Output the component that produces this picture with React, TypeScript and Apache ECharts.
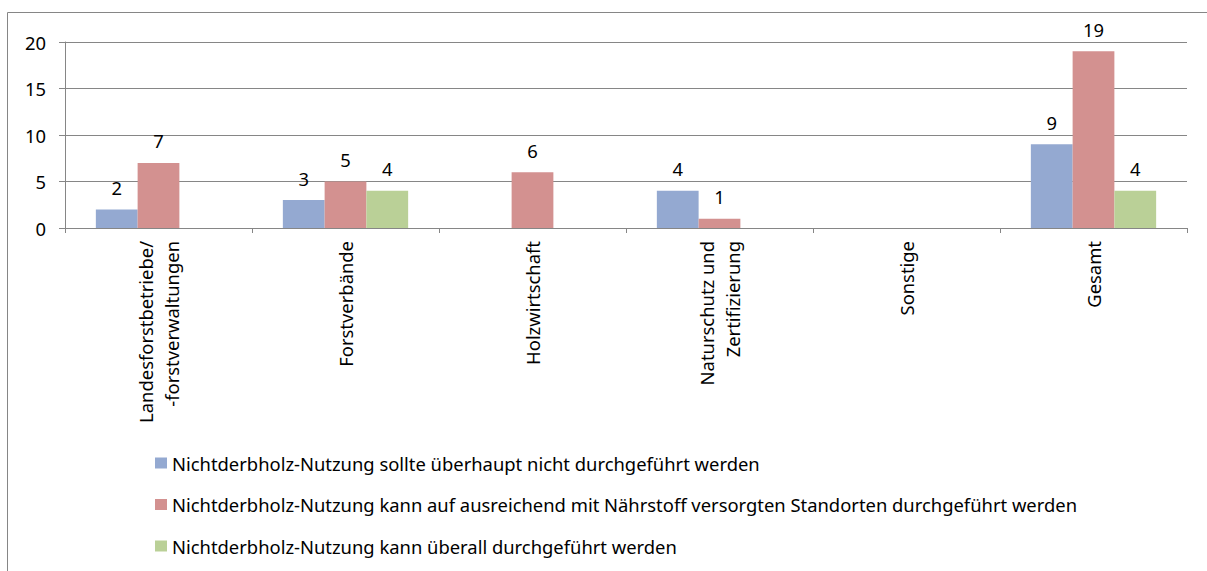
import React, { useEffect, useRef } from "react";
import * as echarts from "echarts";

const categories = [
  "Landesforstbetriebe/\n-forstverwaltungen",
  "Forstverbände",
  "Holzwirtschaft",
  "Naturschutz und\nZertifizierung",
  "Sonstige",
  "Gesamt",
];
const seriesNames = [
  "Nichtderbholz-Nutzung sollte überhaupt nicht durchgeführt werden",
  "Nichtderbholz-Nutzung kann auf ausreichend mit Nährstoff versorgten Standorten durchgeführt werden",
  "Nichtderbholz-Nutzung kann überall durchgeführt werden",
];
const valuesNicht = [2, 3, null, 4, null, 9];
const valuesNaehrstoff = [7, 5, 6, 1, null, 19];
const valuesUeberall = [null, 4, null, null, null, 4];
const colors = ["#94a9d1", "#d39190", "#bad097"];

const FONT = "'Noto Sans', sans-serif";
const FS = 18.4;

export default function App() {
  const ref = useRef<HTMLDivElement>(null);
  useEffect(() => {
    if (!ref.current) return;
    const chart = echarts.init(ref.current, null, { renderer: "svg" });
    const data = [valuesNicht, valuesNaehrstoff, valuesUeberall];
    chart.setOption({
      animation: false,
      backgroundColor: "#ffffff",
      textStyle: { fontFamily: FONT },
      graphic: [
        {
          type: "rect",
          shape: { x: 7.5, y: 12.5, width: 1210, height: 570 },
          style: { fill: "none", stroke: "#868686", lineWidth: 1 },
          silent: true,
        },
      ],
      grid: { left: 65, right: 20, top: 42, bottom: 343, containLabel: false },
      legend: {
        orient: "vertical",
        left: 155,
        top: 453,
        padding: 0,
        itemGap: 21.5,
        itemWidth: 12,
        itemHeight: 11,
        icon: "rect",
        textStyle: { fontFamily: FONT, fontSize: FS, lineHeight: 20, color: "#000" },
        data: seriesNames,
      },
      xAxis: {
        type: "category",
        data: categories,
        axisLine: { lineStyle: { color: "#868686", width: 1 } },
        axisTick: { show: true, length: 5, alignWithLabel: false, lineStyle: { color: "#868686" } },
        axisLabel: {
          rotate: 90,
          interval: 0,
          margin: 13,
          fontFamily: FONT,
          fontSize: FS,
          color: "#000",
          lineHeight: 26,
        },
      },
      yAxis: {
        type: "value",
        min: 0,
        max: 20,
        interval: 5,
        axisLine: { show: true, lineStyle: { color: "#868686" } },
        axisTick: { show: true, length: 6, lineStyle: { color: "#868686" } },
        splitLine: { lineStyle: { color: "#868686", width: 1 } },
        axisLabel: { fontFamily: FONT, fontSize: FS, color: "#000", margin: 19 },
      },
      series: seriesNames.map((name, i) => ({
        name,
        type: "bar",
        data: data[i],
        barGap: "0%",
        barCategoryGap: "33%",
        itemStyle: { color: colors[i] },
        label: {
          show: true,
          position: "top",
          distance: 13,
          fontFamily: FONT,
          fontSize: FS,
          color: "#000",
        },
      })),
    });
    return () => chart.dispose();
  }, []);
  return (
    <div
      ref={ref}
      style={{ position: "absolute", left: 0, top: 0, width: 1207, height: 571 }}
    />
  );
}
